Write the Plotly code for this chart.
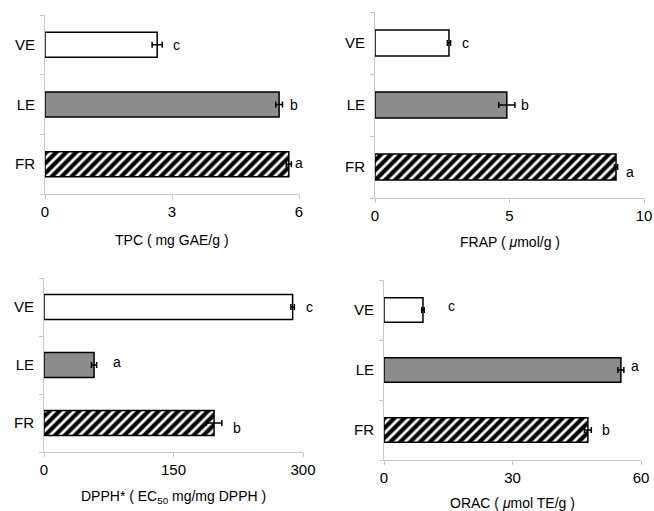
import plotly.graph_objects as go

W, H = 654, 511

categories = ["FR", "LE", "VE"]

tpc_values = [5.76, 5.53, 2.65]
tpc_errors = [0.06, 0.08, 0.12]
tpc_letters = ["a", "b", "c"]

frap_values = [8.96, 4.90, 2.75]
frap_errors = [0.06, 0.30, 0.06]
frap_letters = ["a", "b", "c"]

dpph_values = [197, 58, 288]
dpph_errors = [9, 3, 2]
dpph_letters = ["b", "a", "c"]

orac_values = [47.6, 55.3, 9.1]
orac_errors = [0.8, 0.7, 0.3]
orac_letters = ["b", "a", "c"]

tpc_ticks = [0, 3, 6]
frap_ticks = [0, 5, 10]
dpph_ticks = [0, 150, 300]
orac_ticks = [0, 30, 60]

titles = ["TPC ( mg GAE/g )", "FRAP ( <i>μ</i>mol/g )",
          "DPPH* ( EC<sub>50</sub> mg/mg DPPH )", "ORAC ( <i>μ</i>mol TE/g )"]

# panel geometry in pixels: (x0, x1, ytop, ybottom)
panels = [
    dict(px=(45, 299), py=(15, 194), vals=tpc_values, errs=tpc_errors, letters=tpc_letters,
         ticks=tpc_ticks, title=titles[0], title_y=240, width=0.42,
         shifts=[(8, 1), (12, 0), (14, 0)]),
    dict(px=(375, 644), py=(12, 198), vals=frap_values, errs=frap_errors, letters=frap_letters,
         ticks=frap_ticks, title=titles[1], title_y=242, width=0.42,
         shifts=[(12, -5), (10, 0), (15, 0)]),
    dict(px=(44, 303), py=(278, 452), vals=dpph_values, errs=dpph_errors, letters=dpph_letters,
         ticks=dpph_ticks, title=titles[2], title_y=497, width=0.43,
         shifts=[(15, -5), (20, 3), (15, 0)]),
    dict(px=(384, 641), py=(280, 460), vals=orac_values, errs=orac_errors, letters=orac_letters,
         ticks=orac_ticks, title=titles[3], title_y=503, width=0.41,
         shifts=[(15, 0), (11, 4), (27, 4)]),
]

fills = ["white", "#8c8c8c", "white"]
patterns = ["/", "", ""]

font = "Liberation Sans, Arial, sans-serif"
fig = go.Figure()
annotations = []
layout = {}

for i, p in enumerate(panels):
    n = i + 1
    xa = "x" if n == 1 else f"x{n}"
    ya = "y" if n == 1 else f"y{n}"
    for k, cat in enumerate(categories):
        fig.add_trace(go.Bar(
            x=[p["vals"][k]], y=[cat], orientation="h",
            xaxis=xa, yaxis=ya, width=p["width"],
            marker=dict(color=fills[k], line=dict(color="black", width=1.5),
                        pattern=dict(shape=patterns[k], fgcolor="black", bgcolor="white",
                                     fgopacity=1, size=7, solidity=0.6)),
            error_x=dict(type="data", array=[p["errs"][k]], color="black",
                         thickness=1.5, width=3),
            showlegend=False, hoverinfo="skip",
        ))
        dx, dy = p["shifts"][k]
        annotations.append(dict(
            x=p["vals"][k] + p["errs"][k], y=cat, xref=xa, yref=ya,
            text=p["letters"][k], showarrow=False, xanchor="center",
            xshift=dx, yshift=dy, font=dict(size=14, color="black", family=font)))
    x0, x1 = p["px"]
    yt, yb = p["py"]
    key = "" if n == 1 else str(n)
    layout["xaxis" + key] = dict(
        domain=[x0 / W, x1 / W], range=[0, p["ticks"][-1]], anchor=ya,
        tickvals=p["ticks"], ticks="outside", ticklen=4, tickcolor="#c8c8c8",
        showline=True, linecolor="#c8c8c8", linewidth=1, showgrid=False, zeroline=False,
        tickfont=dict(size=15, color="black", family=font), automargin=False)
    layout["yaxis" + key] = dict(
        domain=[1 - yb / H, 1 - yt / H], range=[-0.5, 2.5], anchor=xa,
        categoryorder="array", categoryarray=categories,
        showline=True, linecolor="#c8c8c8", linewidth=1, showgrid=False, zeroline=False,
        ticks="", tickfont=dict(size=15, color="black", family=font),
        ticklabelstandoff=6, automargin=False,
        minor=dict(tickvals=[-0.5, 0.5, 1.5, 2.5], ticks="outside", ticklen=4,
                   tickcolor="#c8c8c8"))
    annotations.append(dict(
        x=(x0 + x1) / 2 / W, y=1 - p["title_y"] / H, xref="paper", yref="paper",
        text=p["title"], showarrow=False, xanchor="center", yanchor="middle",
        font=dict(size=14, color="black", family=font)))

fig.update_layout(
    width=W, height=H, margin=dict(l=0, r=0, t=0, b=0),
    paper_bgcolor="white", plot_bgcolor="white", barmode="overlay",
    annotations=annotations, **layout)

fig.write_html("out.html", config={"displayModeBar": False},
               post_script="document.body.style.margin='0';document.body.style.overflow='hidden';")
